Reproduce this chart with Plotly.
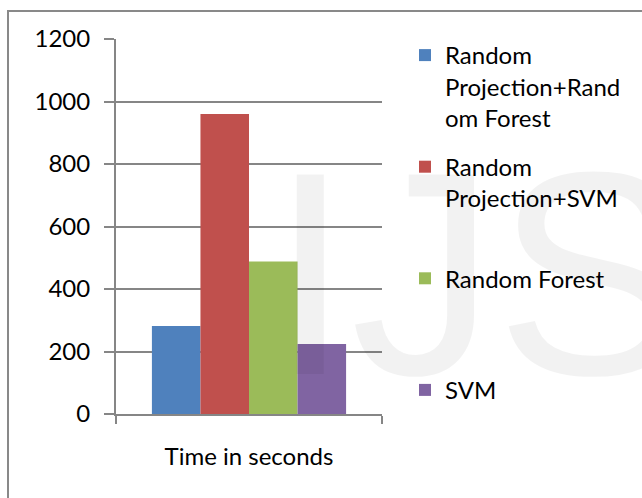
import plotly.graph_objects as go

categories = ["Time in seconds"]
series_names = ["Random<br>Projection+Rand<br>om Forest",
                "Random<br>Projection+SVM<br> ",
                "Random Forest<br> <br> ",
                "SVM"]
rp_rf = [282]
rp_svm = [960]
rf = [488]
svm = [224]
series_values = [rp_rf, rp_svm, rf, svm]
colors = ["#4f81bd", "#c0504d", "#9bbb59", "#8064a2"]
y_ticks = [0, 200, 400, 600, 800, 1000, 1200]

W, H = 642, 498
L, R, T, B = 116, 260, 39, 84
pw, ph = W - L - R, H - T - B

def px(x):
    return (x - L) / pw

def py(y):
    return (H - B - y) / ph

fig = go.Figure()
for i, (name, vals) in enumerate(zip(series_names, series_values)):
    fig.add_trace(go.Bar(x=categories, y=vals, name=name, marker_color=colors[i],
                         marker_line_width=0, legendgroup=f"g{i}"))

font = "Lato, 'Open Sans', sans-serif"
fig.update_layout(
    width=W, height=H,
    margin=dict(l=L, r=R, t=T, b=B),
    paper_bgcolor="white", plot_bgcolor="white",
    barmode="group", bargap=0.27, bargroupgap=0,
    font=dict(family=font, size=24, color="#000000"),
    showlegend=True,
    legend=dict(x=px(405), y=py(33), xanchor="left", yanchor="top",
                valign="top", tracegroupgap=15, traceorder="grouped",
                maxheight=490,
                font=dict(family=font, size=24, color="#000000"),
                bgcolor="rgba(0,0,0,0)"),
    xaxis=dict(showline=True, linecolor="#868686", linewidth=2,
               ticks="outside", tickson="boundaries", ticklen=8, tickwidth=2,
               tickcolor="#868686", showgrid=False, ticklabelstandoff=20,
               tickfont=dict(family=font, size=24, color="#000000")),
    yaxis=dict(range=[0, 1200], tickvals=y_ticks, showline=True,
               linecolor="#868686", linewidth=2, ticks="outside", ticklen=10,
               tickwidth=2, tickcolor="#868686", showgrid=True,
               gridcolor="#868686", gridwidth=2, zeroline=False,
               ticklabelstandoff=9,
               tickfont=dict(family=font, size=24, color="#000000")),
)

# outer chart border
fig.add_shape(type="rect", xref="paper", yref="paper",
              x0=px(8), y0=py(H + 20), x1=px(W + 20), y1=py(11),
              line=dict(color="#898989", width=2), fillcolor="rgba(0,0,0,0)",
              layer="above")

# faint watermark
fig.add_annotation(text="IJS", xref="paper", yref="paper", x=px(268), y=py(437),
                   xanchor="left", yanchor="bottom", showarrow=False,
                   font=dict(family="Liberation Sans", size=290,
                             color="rgba(0,0,0,0.05)"))

fig.write_html("out.html", config={"displayModeBar": False},
               post_script="document.body.style.margin='0';document.body.style.overflow='hidden';")
